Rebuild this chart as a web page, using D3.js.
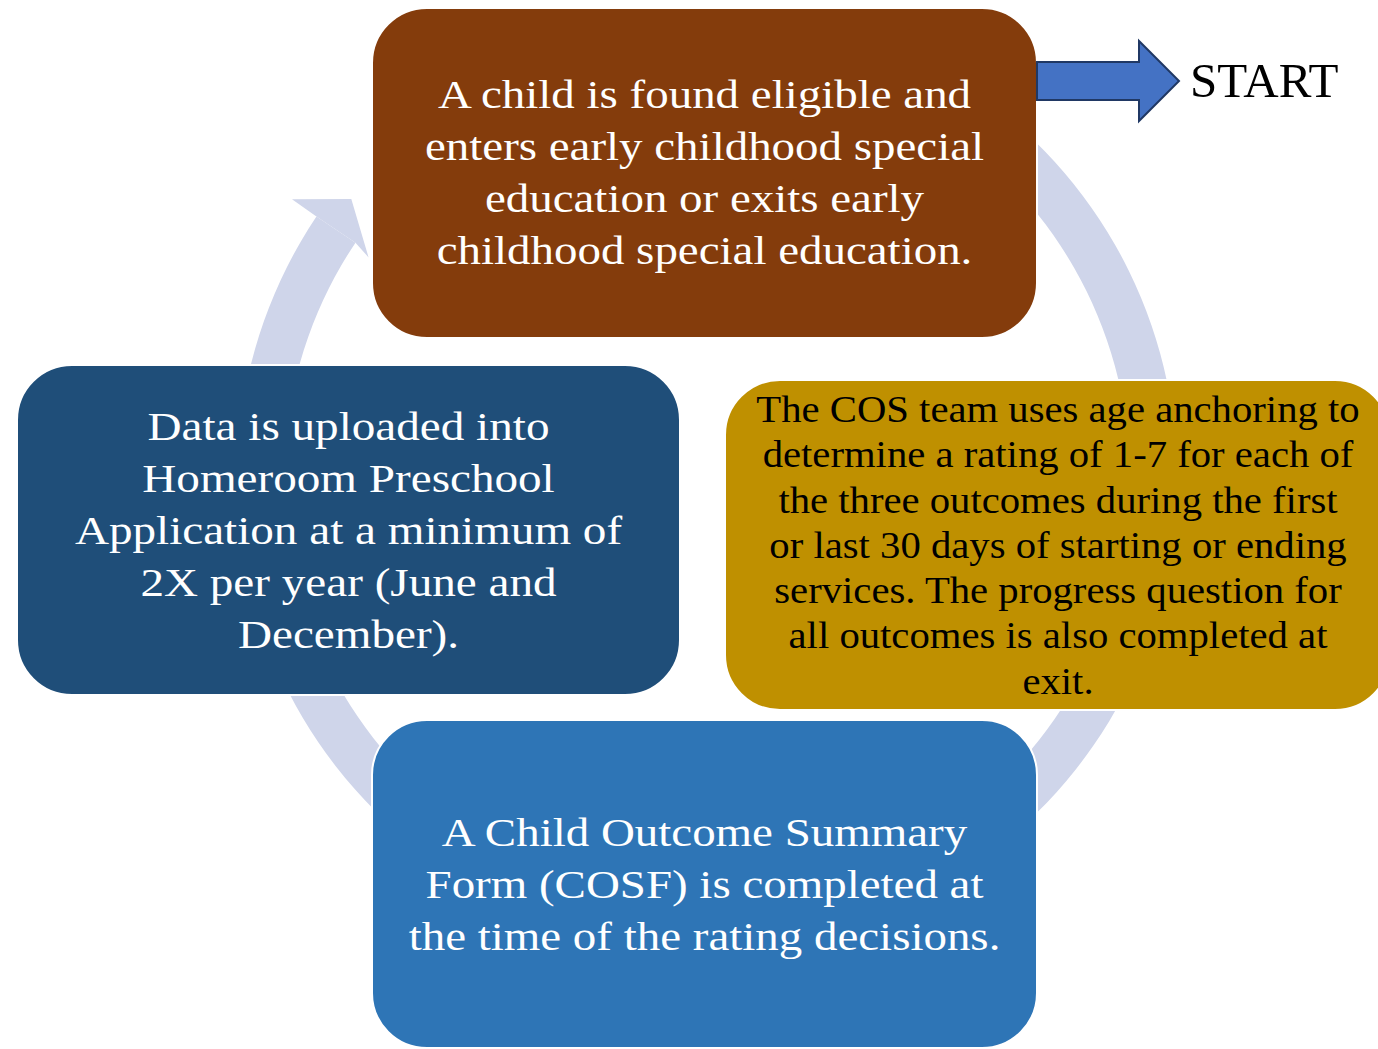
<!DOCTYPE html>
<html>
<head>
<meta charset="utf-8">
<script src="https://cdn.jsdelivr.net/npm/d3@7"></script>
<style>
  body { margin: 0; background: #fff; }
  svg { display: block; }
</style>
</head>
<body>
<svg id="chart" width="1378" height="1049"></svg>
<script>
// steps of the cycle, in order (clockwise from the top)
var stepNames = ['found', 'rating', 'cosf', 'upload'];

var stepText = [
  ['A child is found eligible and', 'enters early childhood special', 'education or exits early', 'childhood special education.'],
  ['The COS team uses age anchoring to', 'determine a rating of 1-7 for each of', 'the three outcomes during the first', 'or last 30 days of starting or ending', 'services. The progress question for', 'all outcomes is also completed at', 'exit.'],
  ['A Child Outcome Summary', 'Form (COSF) is completed at', 'the time of the rating decisions.'],
  ['Data is uploaded into', 'Homeroom Preschool', 'Application at a minimum of', '2X per year (June and', 'December).']
];

var stepColors = ['#843c0c', '#bf9000', '#2e75b6', '#1f4e79'];
var textColors = ['#ffffff', '#000000', '#ffffff', '#ffffff'];
var startLabel = 'START';

// layout (sx widens the serif a bit, the original face is broader)
var boxes = [
  { x: 372, y: 8, w: 665, h: 330, size: 41, sx: 1.145, lead: 52, first: 108 },
  { x: 725, y: 380, w: 665, h: 330, size: 37, sx: 1.1, lead: 45.3, first: 422, cx: 1058 },
  { x: 372, y: 720, w: 665, h: 328, size: 41, sx: 1.145, lead: 52, first: 846 },
  { x: 17, y: 365, w: 663, h: 330, size: 41, sx: 1.15, lead: 52, first: 440 }
];

var svg = d3.select('#chart');
var font = '"Liberation Serif", "Times New Roman", serif';

// the ring behind the boxes
var cx = 707, cy = 478, rOut = 470, rIn = 423;
var deg = Math.PI / 180;

var ring = d3.arc()
  .innerRadius(rIn)
  .outerRadius(rOut)
  .startAngle(-40 * deg)
  .endAngle(303.8 * deg);

svg.append('path')
  .attr('transform', 'translate(' + cx + ',' + cy + ')')
  .attr('d', ring())
  .attr('fill', '#cfd5ea');

// arrowhead at the end of the ring (upper left)
var polar = function(r, a) {
  return [cx + r * Math.sin(a * deg), cy - r * Math.cos(a * deg)];
};
var head = [polar(rIn, -56.2), polar(404, -56.9), polar(452, -51.9), polar(500, -56.1), polar(rOut, -56.2)];
svg.append('path')
  .attr('d', d3.line()(head) + 'Z')
  .attr('fill', '#cfd5ea');

// boxes
var g = svg.selectAll('g.step')
  .data(stepNames)
  .enter()
  .append('g')
  .attr('class', 'step');

g.append('rect')
  .attr('x', function(d, i) { return boxes[i].x; })
  .attr('y', function(d, i) { return boxes[i].y; })
  .attr('width', function(d, i) { return boxes[i].w; })
  .attr('height', function(d, i) { return boxes[i].h; })
  .attr('rx', 55)
  .attr('ry', 55)
  .attr('fill', function(d, i) { return stepColors[i]; })
  .attr('stroke', '#fff')
  .attr('stroke-width', 2);

g.append('text')
  .attr('text-anchor', 'middle')
  .attr('font-family', font)
  .attr('font-size', function(d, i) { return boxes[i].size; })
  .attr('fill', function(d, i) { return textColors[i]; })
  .attr('transform', function(d, i) {
    var b = boxes[i];
    var x = b.cx || (b.x + b.w / 2);
    return 'translate(' + x + ',0) scale(' + b.sx + ',1)';
  })
  .each(function(d, i) {
    var b = boxes[i];
    d3.select(this).selectAll('tspan')
      .data(stepText[i])
      .enter()
      .append('tspan')
      .attr('x', 0)
      .attr('y', function(t, j) { return b.first + j * b.lead; })
      .text(function(t) { return t; });
  });

// START arrow
var arrowPts = [[1037, 62], [1139, 62], [1139, 41], [1179, 81], [1139, 121], [1139, 100], [1037, 100]];
svg.append('path')
  .attr('d', d3.line()(arrowPts) + 'Z')
  .attr('fill', '#4472c4')
  .attr('stroke', '#203864')
  .attr('stroke-width', 2);

svg.append('text')
  .attr('x', 1190)
  .attr('y', 97)
  .attr('font-family', font)
  .attr('font-size', 49)
  .attr('fill', '#000')
  .text(startLabel);
</script>
</body>
</html>
